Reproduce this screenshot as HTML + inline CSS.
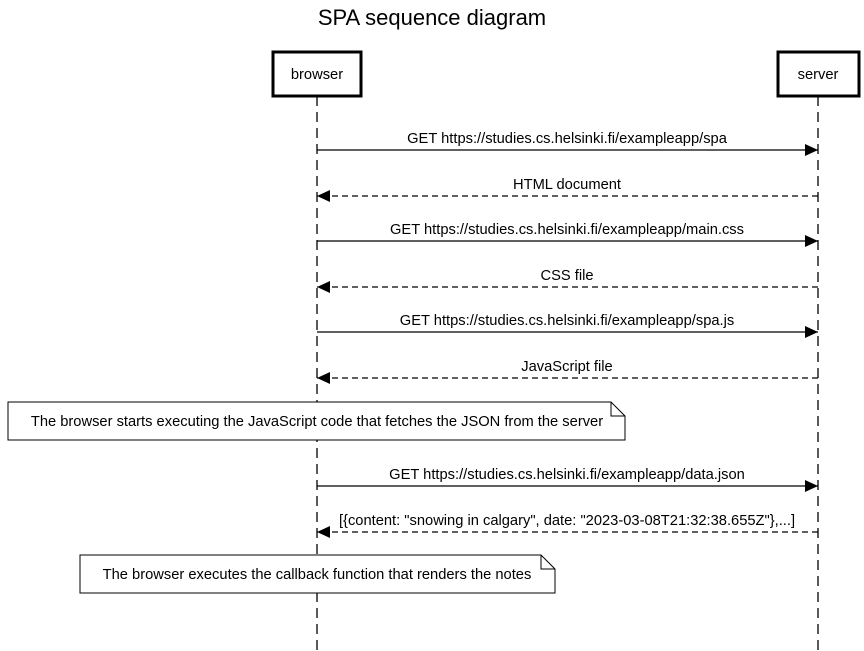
<!DOCTYPE html>
<html><head><style>body{margin:0;background:#fff}svg{display:block}</style></head><body>
<svg width="864" height="651" xmlns="http://www.w3.org/2000/svg" font-family="Liberation Sans, Arial, sans-serif">
<rect width="864" height="651" fill="#fff"/>
<text x="432" y="25" font-size="22" text-anchor="middle">SPA sequence diagram</text>
<g stroke="#000" stroke-width="1.3" stroke-dasharray="10,6" fill="none">
<line x1="317" y1="96" x2="317" y2="651"/>
<line x1="818" y1="96" x2="818" y2="651"/>
</g>
<rect x="273" y="52" width="88" height="44" fill="#fff" stroke="#000" stroke-width="3"/>
<text x="317" y="79" font-size="14.7" text-anchor="middle">browser</text>
<rect x="778" y="52" width="81" height="44" fill="#fff" stroke="#000" stroke-width="3"/>
<text x="818" y="79" font-size="14.7" text-anchor="middle">server</text>
<defs>
<marker id="a" markerWidth="14" markerHeight="14" refX="13" refY="7" orient="auto" markerUnits="userSpaceOnUse"><path d="M0,1 L13,7 L0,13z" fill="#000"/></marker>
</defs>
<g stroke="#000" stroke-width="1.3" fill="none" marker-end="url(#a)">
<line x1="317" y1="150" x2="818" y2="150"/>
<line x1="818" y1="196" x2="317" y2="196" stroke-dasharray="6,4"/>
<line x1="317" y1="241" x2="818" y2="241"/>
<line x1="818" y1="287" x2="317" y2="287" stroke-dasharray="6,4"/>
<line x1="317" y1="332" x2="818" y2="332"/>
<line x1="818" y1="378" x2="317" y2="378" stroke-dasharray="6,4"/>
<line x1="317" y1="486" x2="818" y2="486"/>
<line x1="818" y1="532" x2="317" y2="532" stroke-dasharray="6,4"/>
</g>
<g font-size="14.7" text-anchor="middle">
<text x="567" y="143">GET https://studies.cs.helsinki.fi/exampleapp/spa</text>
<text x="567" y="189">HTML document</text>
<text x="567" y="234">GET https://studies.cs.helsinki.fi/exampleapp/main.css</text>
<text x="567" y="280">CSS file</text>
<text x="567" y="325">GET https://studies.cs.helsinki.fi/exampleapp/spa.js</text>
<text x="567" y="371">JavaScript file</text>
<text x="567" y="479">GET https://studies.cs.helsinki.fi/exampleapp/data.json</text>
<text x="567" y="525">[{content: "snowing in calgary", date: "2023-03-08T21:32:38.655Z"},...]</text>
</g>
<path d="M8,402 H611 L625,416 V440 H8 Z M611,402 V416 H625" fill="#fff" stroke="#000" stroke-width="1"/>
<text x="317" y="426" font-size="14.7" text-anchor="middle">The browser starts executing the JavaScript code that fetches the JSON from the server</text>
<path d="M80,555 H541 L555,569 V593 H80 Z M541,555 V569 H555" fill="#fff" stroke="#000" stroke-width="1"/>
<text x="317" y="579" font-size="14.7" text-anchor="middle">The browser executes the callback function that renders the notes</text>
</svg>
</body></html>
